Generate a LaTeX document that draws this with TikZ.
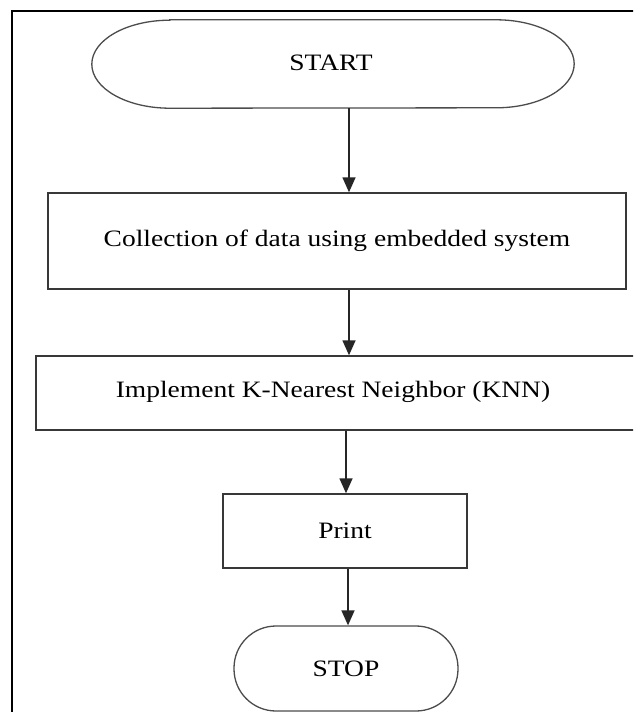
\documentclass[tikz,border=0pt]{standalone}
\usepackage{fontspec}
\setmainfont{Liberation Serif}[FakeStretch=1.17]
\usetikzlibrary{arrows.meta}
\begin{document}
\begin{tikzpicture}[x=1pt,y=-1pt,
  every node/.style={font=\fontsize{23.5}{28}\selectfont, inner sep=0pt},
  boxst/.style={draw=black!78, line width=1.4pt, rectangle},
  termst/.style={draw=black!70, line width=1.3pt, rectangle, rounded corners=42pt},
  arr/.style={draw=black!85, line width=1.5pt, -{Triangle[length=15pt,width=13pt]}},
  frame/.style={draw=black, line width=2.4pt}]
\useasboundingbox (0,0) rectangle (633,712);
\clip (0,0) rectangle (633,712);
\fill[white] (0,0) rectangle (633,712);
\draw[frame] (12,11) rectangle (660,740);
% START terminal (elliptic ends)
\node[rectangle, minimum width=482pt, minimum height=88pt] (start) at (333,64) {};
\node (starttxt) at (331,63) {START};
\draw[draw=black!70, line width=1.3pt]
  ([xshift=78pt]start.north west) -- ([xshift=-78pt]start.north east)
  arc[start angle=90, end angle=-90, x radius=78pt, y radius=44pt]
  -- ([xshift=78pt]start.south west)
  arc[start angle=270, end angle=90, x radius=78pt, y radius=44pt] -- cycle;
% boxes
\node[boxst, minimum width=578pt, minimum height=96pt] (coll) at (337,241) {Collection of data using embedded system};
\node[boxst, minimum width=624pt, minimum height=74pt] (knn) at (348,393) {};
\node (knntxt) at (333,392) {Implement K-Nearest Neighbor (KNN)};
\node[boxst, minimum width=244pt, minimum height=74pt] (print) at (345,531) {Print};
\node[termst, minimum width=224pt, minimum height=85pt] (stop) at (346,668.5) {STOP};
% connectors
\draw[arr] ([xshift=16pt]start.south) -- ([xshift=12pt]coll.north);
\draw[arr] ([xshift=12pt]coll.south) -- ([xshift=1pt]knn.north);
\draw[arr] ([xshift=-2pt]knn.south) -- ([xshift=1pt]print.north);
\draw[arr] ([xshift=3pt]print.south) -- ([xshift=2pt]stop.north);
\end{tikzpicture}
\end{document}
